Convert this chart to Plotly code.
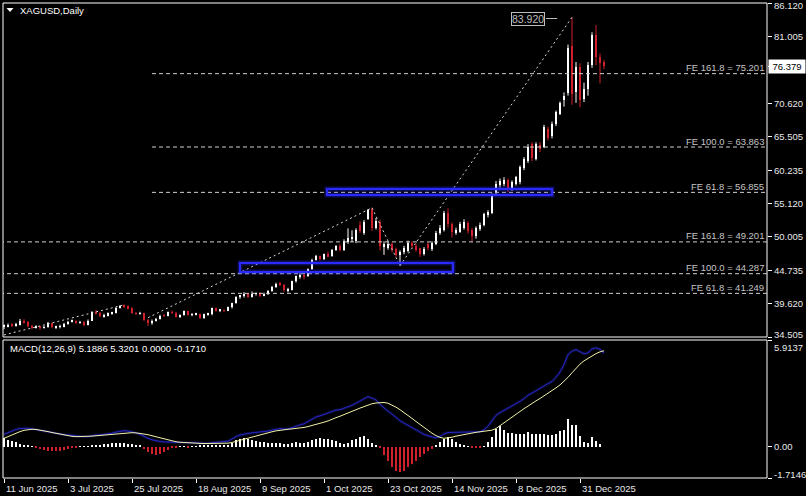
import plotly.graph_objects as go

# ---------------- data ----------------
opens = [36.05,36.20,36.35,36.30,36.40,37.00,36.80,36.20,35.95,36.10,35.90,36.05,36.65,36.00,36.05,36.10,36.50,36.85,37.00,36.70,
         36.80,36.35,37.05,38.35,38.20,37.70,37.90,38.15,38.20,39.00,39.30,39.25,38.95,38.20,38.10,38.20,37.10,36.70,37.05,37.35,
         37.80,37.75,38.30,38.25,37.60,37.85,38.45,37.95,38.00,38.10,37.40,38.00,38.05,38.95,38.60,38.65,38.55,39.10,39.70,40.70,
         40.85,41.10,40.70,41.20,41.25,40.95,41.20,41.60,42.20,42.70,42.60,41.70,41.80,43.10,43.90,44.10,43.90,45.00,46.45,47.00,
         46.60,47.30,47.00,48.00,48.60,48.00,49.20,49.60,49.30,51.80,50.60,52.80,54.30,51.40,52.30,48.40,48.30,48.90,48.10,47.20,
         47.60,47.80,49.10,48.60,48.20,47.30,48.90,48.10,48.90,50.60,51.00,53.70,51.90,50.70,50.80,51.40,52.20,51.00,50.10,51.20,
         51.80,53.30,53.70,56.70,58.00,58.20,58.80,57.30,58.10,58.40,60.60,61.70,64.30,62.00,64.10,63.90,66.60,65.50,67.40,69.00,
         71.20,72.20,79.40,72.40,76.30,71.30,72.90,76.50,81.20,77.80,77.05]
highs = [36.45,36.60,36.65,36.70,37.30,37.25,36.95,36.40,36.30,36.20,36.25,36.85,36.70,36.25,36.40,36.70,37.00,37.20,37.10,37.00,
         36.95,37.20,38.50,38.70,38.40,38.10,38.30,38.40,39.10,39.45,39.55,39.40,39.10,38.35,38.40,38.25,37.30,37.20,37.45,37.95,
         38.05,38.45,38.60,38.40,38.00,38.60,38.55,38.20,38.25,38.15,38.10,38.25,39.05,39.05,38.80,38.75,39.20,39.80,40.80,41.00,
         41.45,41.20,41.55,41.40,41.40,41.35,41.75,42.40,42.90,43.00,42.70,42.10,43.20,44.00,44.45,44.20,45.10,46.60,47.20,47.10,
         47.40,47.70,48.10,48.70,48.90,49.60,51.30,51.00,51.30,52.40,52.60,54.30,54.47,52.90,52.60,49.30,49.30,49.10,48.30,47.90,
         48.60,49.40,49.30,48.90,48.30,48.40,49.10,49.30,50.90,51.80,54.00,54.40,52.20,51.40,52.30,52.70,52.40,51.30,51.60,52.20,
         53.70,54.10,56.70,58.60,59.00,59.20,59.00,58.70,59.40,61.00,62.30,64.30,64.60,64.60,64.60,67.30,67.00,67.80,69.50,70.90,
         72.30,79.70,83.92,77.00,76.80,73.80,77.00,81.60,82.70,78.30,77.30]
lows = [35.70,36.00,36.05,36.10,36.30,36.60,36.00,35.70,35.80,35.60,35.80,35.95,35.85,35.75,35.85,36.00,36.40,36.75,36.50,36.55,
        36.20,36.30,37.00,38.00,37.55,37.50,37.70,37.95,38.15,38.90,38.95,38.80,38.05,37.90,37.95,37.00,36.20,36.40,36.90,37.20,
        37.60,37.70,38.05,37.50,37.45,37.80,37.80,37.70,37.85,37.25,37.30,37.80,37.85,38.45,38.35,38.40,38.50,38.90,39.65,40.40,
        40.60,40.55,40.60,40.90,40.70,40.80,41.00,41.50,42.10,42.40,41.50,41.40,41.70,42.90,43.50,43.40,43.80,44.90,46.30,46.30,
        46.40,46.90,46.90,47.80,47.70,47.80,48.90,49.20,49.00,50.60,50.30,52.60,50.90,51.10,47.90,47.20,48.00,47.60,46.90,45.52,
        47.30,47.60,48.30,47.70,46.90,47.10,47.90,47.80,48.70,50.30,50.80,51.40,49.90,50.30,50.60,51.10,50.50,49.20,49.70,50.90,
        51.60,53.00,53.50,56.30,57.60,57.80,56.90,57.10,57.90,58.10,60.30,61.40,61.70,61.80,63.10,63.70,64.90,65.20,67.10,68.80,
        70.10,71.80,70.40,70.70,70.00,70.80,71.80,76.10,76.50,73.70,75.90]
closes = [36.25,36.30,36.30,36.35,37.00,36.80,36.20,35.95,36.10,35.90,36.05,36.65,36.00,36.05,36.10,36.50,36.85,37.00,36.70,36.80,
          36.35,37.05,38.35,38.20,37.70,37.90,38.15,38.20,39.00,39.30,39.25,38.95,38.20,38.10,38.20,37.10,36.70,37.05,37.35,37.80,
          37.75,38.30,38.25,37.60,37.85,38.45,37.95,38.00,38.10,37.40,38.00,38.05,38.95,38.60,38.65,38.55,39.10,39.70,40.70,40.85,
          41.10,40.70,41.20,41.25,40.95,41.20,41.60,42.20,42.70,42.60,41.70,41.80,43.10,43.90,44.10,43.90,45.00,46.45,47.00,46.60,
          47.30,47.00,48.00,48.60,47.90,49.40,49.80,50.00,51.00,50.90,52.30,54.20,51.40,52.50,48.50,48.90,48.90,48.00,47.20,47.60,
          48.30,49.00,48.60,47.90,47.30,48.10,48.30,49.00,50.60,51.30,53.70,51.90,50.70,51.00,51.90,52.30,50.90,50.10,51.40,51.80,
          53.50,53.80,56.40,58.10,58.60,58.80,57.30,58.40,59.20,60.70,62.00,63.80,62.10,64.30,63.60,66.90,65.30,67.40,69.30,70.60,
          71.80,79.20,72.10,76.30,71.10,72.90,76.50,81.20,77.80,76.90,76.379]

macd_main = [0.70,0.80,0.90,0.97,1.02,1.04,1.03,1.00,0.95,0.90,0.86,0.84,0.80,0.75,0.70,0.67,0.66,0.63,0.60,0.58,
             0.57,0.58,0.63,0.66,0.66,0.68,0.72,0.76,0.82,0.88,0.90,0.88,0.84,0.78,0.70,0.58,0.48,0.40,0.34,0.30,
             0.28,0.27,0.26,0.24,0.23,0.24,0.22,0.21,0.20,0.19,0.19,0.20,0.24,0.25,0.26,0.27,0.32,0.44,0.58,0.66,
             0.72,0.75,0.78,0.80,0.82,0.85,0.88,0.93,0.99,1.02,0.99,1.00,1.06,1.15,1.22,1.28,1.40,1.55,1.66,1.72,
             1.80,1.87,1.96,2.04,2.06,2.12,2.22,2.30,2.42,2.52,2.68,2.78,2.70,2.60,2.35,2.15,1.98,1.82,1.62,1.45,
             1.32,1.20,1.08,0.92,0.80,0.70,0.62,0.55,0.50,0.58,0.72,0.80,0.80,0.82,0.83,0.84,0.83,0.80,0.80,0.84,
             0.95,1.15,1.45,1.75,1.90,2.02,2.12,2.25,2.38,2.52,2.68,2.86,2.98,3.12,3.24,3.40,3.50,3.62,3.85,4.15,
             4.55,5.10,5.30,5.38,5.25,5.15,5.20,5.42,5.48,5.40,5.19]
macd_signal = [0.48,0.58,0.68,0.77,0.85,0.92,0.97,0.98,0.97,0.94,0.90,0.85,0.80,0.75,0.70,0.66,0.62,0.59,0.57,0.57,
               0.57,0.58,0.60,0.62,0.64,0.65,0.66,0.68,0.71,0.74,0.77,0.79,0.79,0.78,0.76,0.73,0.68,0.62,0.56,0.50,
               0.44,0.38,0.33,0.29,0.26,0.24,0.22,0.21,0.20,0.20,0.19,0.19,0.19,0.19,0.19,0.20,0.21,0.25,0.31,0.38,
               0.45,0.52,0.57,0.63,0.69,0.74,0.79,0.84,0.89,0.93,0.96,0.98,1.00,1.02,1.04,1.08,1.13,1.18,1.24,1.31,
               1.37,1.44,1.51,1.62,1.70,1.78,1.88,1.97,2.06,2.15,2.24,2.32,2.39,2.43,2.46,2.46,2.42,2.32,2.20,2.06,
               1.91,1.75,1.58,1.41,1.24,1.07,0.91,0.76,0.63,0.53,0.48,0.49,0.54,0.60,0.65,0.70,0.74,0.78,0.81,0.84,
               0.86,0.88,0.93,1.02,1.18,1.35,1.52,1.68,1.84,1.98,2.12,2.26,2.42,2.55,2.68,2.82,2.96,3.11,3.27,3.43,
               3.62,3.85,4.10,4.35,4.58,4.76,4.90,5.03,5.16,5.26,5.32]
macd_hist = [0.52,0.40,0.32,0.25,0.18,0.12,0.06,0.02,-0.08,-0.13,-0.17,-0.20,-0.22,-0.22,-0.20,-0.16,-0.10,-0.05,-0.02,0.02,
             0.03,0.05,0.08,0.10,0.13,0.17,0.19,0.20,0.21,0.22,0.20,0.18,0.15,0.12,0.06,-0.13,-0.26,-0.38,-0.44,-0.38,
             -0.27,-0.14,-0.05,-0.02,0.02,0.03,-0.02,0.02,0.03,0.06,0.07,0.08,0.09,0.08,0.08,0.09,0.12,0.24,0.37,0.46,
             0.48,0.43,0.38,0.33,0.30,0.27,0.24,0.21,0.23,0.20,0.16,0.15,0.22,0.25,0.20,0.20,0.28,0.37,0.46,0.50,
             0.46,0.42,0.37,0.31,0.24,0.18,0.24,0.37,0.42,0.55,0.60,0.46,0.24,0.09,-0.05,-0.45,-0.80,-1.10,-1.30,-1.40,
             -1.30,-1.10,-0.95,-0.75,-0.55,-0.40,-0.20,-0.10,0.10,0.30,0.45,0.55,0.45,0.28,0.18,0.12,0.05,-0.03,-0.05,-0.04,
             0.05,0.25,0.55,1.00,1.15,0.95,0.80,0.75,0.70,0.70,0.72,0.85,0.72,0.70,0.70,0.72,0.68,0.65,0.72,0.90,
             0.95,1.55,1.20,1.20,0.60,0.25,0.22,0.55,0.35,0.15,0.00]

date_tick_bars = [0, 16, 32, 48, 64, 80, 96, 112, 128, 144]
date_tick_labels = ["11 Jun 2025", "3 Jul 2025", "25 Jul 2025", "18 Aug 2025", "9 Sep 2025",
                    "1 Oct 2025", "23 Oct 2025", "14 Nov 2025", "8 Dec 2025", "31 Dec 2025"]
price_ticks = [86.120, 81.005, 70.620, 65.505, 60.235, 55.120, 50.005, 44.735, 39.620, 34.505]
price_tick_labels = ["86.120", "81.005", "70.620", "65.505", "60.235", "55.120", "50.005", "44.735", "39.620", "34.505"]
macd_ticks = [5.9137, 0.0, -1.7146]
macd_tick_labels = ["5.9137", "0.00", "-1.7146"]
price_range = [34.505, 86.120]
macd_range = [-1.7146, 5.9137]

fe_upper_levels = [75.201, 63.863, 56.855]
fe_upper_labels = ["FE 161.8 = 75.201", "FE 100.0 = 63.863", "FE 61.8 = 56.855"]
fe_lower_levels = [49.201, 44.287, 41.249]
fe_lower_labels = ["FE 161.8 = 49.201", "FE 100.0 = 44.287", "FE 61.8 = 41.249"]
fe_upper_start_bar = 37

trend_lines = [  # (bar0, price0, bar1, price1)
    (0, 34.82, 30, 39.47),
    (36, 37.49, 92, 54.47),
    (92, 54.47, 99, 45.52),
    (99, 45.52, 142, 83.92),
]
zones = [  # (bar0, bar1, low, high)
    (80.75, 137.0, 56.45, 57.38),
    (59.0, 112.25, 44.55, 45.94),
]
last_price = 76.379
peak_price = 83.920
peak_label_bar = 131
symbol_title = "XAGUSD,Daily"
macd_title = "MACD(12,26,9) 5.1886 5.3201 0.0000 -0.1710"

# ---------------- layout geometry ----------------
W, H = 806, 496
L, R, T, B = 3, 39, 3, 18
PW, PH = W - L - R, H - T - B


def xp(px):
    return (px - L) / PW


def yp(py):
    return (H - B - py) / PH


main_dom = [yp(337), 1.0]
macd_dom = [0.0, yp(340)]

BULL = "#ffffff"
BEAR = "#d0202c"
FONT = "Liberation Sans"
n = len(closes)
bars = list(range(n))

fig = go.Figure()

# wicks
for col, cond in ((BULL, True), (BEAR, False)):
    wx, wy = [], []
    for i in bars:
        if (closes[i] >= opens[i]) == cond:
            wx += [i, i, None]
            wy += [lows[i], highs[i], None]
    fig.add_trace(go.Scatter(x=wx, y=wy, mode="lines", line=dict(color=col, width=1),
                             hoverinfo="skip", showlegend=False, xaxis="x", yaxis="y"))

# bodies
body_base = [min(o, c) for o, c in zip(opens, closes)]
body_h = [max(abs(c - o), 0.09) for o, c in zip(opens, closes)]
body_col = [BULL if c >= o else BEAR for o, c in zip(opens, closes)]
fig.add_trace(go.Bar(x=bars, y=body_h, base=body_base, width=0.72,
                     marker=dict(color=body_col, line=dict(width=0)),
                     showlegend=False, xaxis="x", yaxis="y"))

# MACD histogram and lines
fig.add_trace(go.Bar(x=bars, y=macd_hist, width=0.3,
                     marker=dict(color=[BULL if v >= 0 else BEAR for v in macd_hist], line=dict(width=0)),
                     showlegend=False, xaxis="x", yaxis="y2"))
fig.add_trace(go.Scatter(x=bars, y=macd_main, mode="lines", line=dict(color="rgba(40,40,200,0.25)", width=3),
                         showlegend=False, xaxis="x", yaxis="y2", hoverinfo="skip"))
fig.add_trace(go.Scatter(x=bars, y=macd_main, mode="lines", line=dict(color="#2626c8", width=1),
                         showlegend=False, xaxis="x", yaxis="y2"))
fig.add_trace(go.Scatter(x=bars, y=macd_signal, mode="lines", line=dict(color="#f2f2a8", width=1),
                         showlegend=False, xaxis="x", yaxis="y2"))

shapes = []
# pane frames
shapes.append(dict(type="rect", xref="paper", yref="paper", x0=0, x1=1, y0=main_dom[0], y1=1,
                   line=dict(color="#ffffff", width=1)))
shapes.append(dict(type="rect", xref="paper", yref="paper", x0=0, x1=1, y0=0, y1=macd_dom[1],
                   line=dict(color="#ffffff", width=1)))
# FE levels
for lv in fe_upper_levels:
    shapes.append(dict(type="line", xref="x", yref="y", x0=fe_upper_start_bar, x1=n + 50, y0=lv, y1=lv,
                       line=dict(color="#cfcfcf", width=1, dash="4px,3px")))
for lv in fe_lower_levels:
    shapes.append(dict(type="line", xref="x", yref="y", x0=-1, x1=n + 50, y0=lv, y1=lv,
                       line=dict(color="#cfcfcf", width=1, dash="4px,3px")))
# trend lines
for b0, p0, b1, p1 in trend_lines:
    shapes.append(dict(type="line", xref="x", yref="y", x0=b0, x1=b1, y0=p0, y1=p1,
                       line=dict(color="#d8d8d8", width=1, dash="2px,3px")))
# zones
for b0, b1, lo, hi in zones:
    shapes.append(dict(type="rect", xref="x", yref="y", x0=b0, x1=b1, y0=lo, y1=hi,
                       line=dict(color="rgba(40,40,255,0.35)", width=5)))
    shapes.append(dict(type="rect", xref="x", yref="y", x0=b0, x1=b1, y0=lo, y1=hi,
                       line=dict(color="#2a2aff", width=2)))
# peak label leader
shapes.append(dict(type="line", xref="x", yref="y", x0=peak_label_bar + 4.5, x1=peak_label_bar + 7.3,
                   y0=peak_price - 0.2, y1=peak_price - 0.2, line=dict(color="#bdbdbd", width=1)))
# title triangle
shapes.append(dict(type="path", xref="paper", yref="paper",
                   path=f"M {xp(6.5)} {yp(8)} L {xp(13.5)} {yp(8)} L {xp(10)} {yp(12)} Z",
                   fillcolor="#ffffff", line=dict(width=0)))

ann = []
ann.append(dict(text=symbol_title, xref="paper", yref="paper", x=xp(18), y=yp(10), xanchor="left",
                yanchor="middle", showarrow=False, font=dict(family=FONT, size=9.5, color="#ffffff")))
ann.append(dict(text=macd_title, xref="paper", yref="paper", x=xp(8), y=yp(348), xanchor="left",
                yanchor="middle", showarrow=False, font=dict(family=FONT, size=9.5, color="#ffffff")))
for lv, lab in zip(fe_upper_levels + fe_lower_levels, fe_upper_labels + fe_lower_labels):
    ann.append(dict(text=lab, xref="paper", yref="y", x=xp(765.5), y=lv, xanchor="right", yanchor="middle",
                    yshift=6, showarrow=False, font=dict(family=FONT, size=9.5, color="#c4c4c4")))
# price axis labels
for v, lab in zip(price_ticks, price_tick_labels):
    shift = 0
    if v == price_ticks[0]:
        shift = -2
    if v == price_ticks[-1]:
        shift = 3
    ann.append(dict(text=lab, xref="paper", yref="y", x=xp(772.5), y=v, xanchor="left", yanchor="middle",
                    yshift=shift, showarrow=False, font=dict(family=FONT, size=9.5, color="#e8e8e8")))
for v, lab in zip(macd_ticks, macd_tick_labels):
    shift = 0
    if v == macd_ticks[0]:
        shift = -7
    if v == macd_ticks[-1]:
        shift = 4
    ann.append(dict(text=lab, xref="paper", yref="y2", x=xp(771.5), y=v, xanchor="left", yanchor="middle",
                    yshift=shift, showarrow=False, font=dict(family=FONT, size=9.5, color="#e8e8e8")))
# current price box
ann.append(dict(text=f"{last_price:.3f}", xref="paper", yref="y", x=xp(768), y=last_price, xanchor="left",
                yanchor="middle", showarrow=False, bgcolor="#ffffff", borderpad=1, width=34,
                font=dict(family=FONT, size=9.5, color="#000000")))
# peak label
ann.append(dict(text=f"{peak_price:.3f}", xref="x", yref="y", x=peak_label_bar, y=peak_price - 0.2,
                xanchor="center", yanchor="middle", showarrow=False, bordercolor="#bdbdbd", borderwidth=1,
                borderpad=0, font=dict(family=FONT, size=10.5, color="#bdbdbd")))
# date labels
for b, lab in zip(date_tick_bars, date_tick_labels):
    ann.append(dict(text=lab, xref="x", yref="paper", x=b, y=yp(488), xanchor="left", yanchor="middle",
                    xshift=0, showarrow=False, font=dict(family=FONT, size=9.5, color="#e8e8e8")))

fig.update_layout(
    width=W, height=H, margin=dict(l=L, r=R, t=T, b=B),
    paper_bgcolor="#000000", plot_bgcolor="#000000",
    barmode="overlay", bargap=0, showlegend=False,
    xaxis=dict(range=[-0.25, 190.75], anchor="y2", showgrid=False, zeroline=False, showline=False,
               tickmode="array", tickvals=date_tick_bars, ticks="outside", ticklen=4, tickcolor="#ffffff",
               showticklabels=False),
    yaxis=dict(domain=main_dom, range=price_range, side="right", anchor="x", showgrid=False, zeroline=False,
               tickmode="array", tickvals=price_ticks + [last_price], ticks="outside", ticklen=4,
               tickcolor="#ffffff", showticklabels=False),
    yaxis2=dict(domain=macd_dom, range=macd_range, side="right", anchor="x", showgrid=False, zeroline=False,
                tickmode="array", tickvals=macd_ticks, ticks="outside", ticklen=4, tickcolor="#ffffff",
                showticklabels=False),
    shapes=shapes, annotations=ann,
)

fig.write_html("out.html", config={"displayModeBar": False},
               post_script="document.body.style.margin='0px';document.body.style.background='#000';")
